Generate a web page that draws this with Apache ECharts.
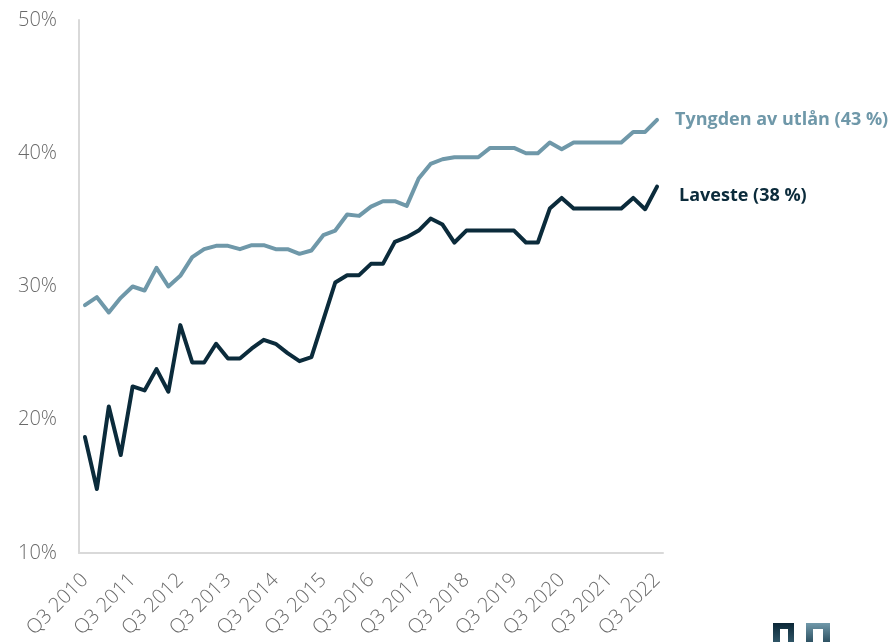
<!DOCTYPE html>
<html>
<head>
<meta charset="utf-8">
<script src="https://cdn.jsdelivr.net/npm/echarts@6/dist/echarts.min.js"></script>
<style>
  html, body { margin: 0; padding: 0; background: #fff; }
  #chart { width: 891px; height: 642px; }
</style>
</head>
<body>
<div id="chart"></div>
<script>
// Quarterly observations, Q3 2010 – Q3 2022 (percent)
const firstYear = 2010;
const quarters = [];
for (let i = 0; i < 49; i++) {
  const q = ((2 + i) % 4) + 1;
  const y = firstYear + Math.floor((2 + i) / 4);
  quarters.push('Q' + q + ' ' + y);
}

const seriesNames = ['Tyngden av utlån', 'Laveste'];

const tyngden = [
  28.6, 29.2, 28.05, 29.15, 30.0, 29.7, 31.4, 30.0, 30.8, 32.2,
  32.8, 33.05, 33.05, 32.8, 33.1, 33.1, 32.8, 32.8, 32.45, 32.7,
  33.85, 34.2, 35.4, 35.3, 36.0, 36.4, 36.4, 36.05, 38.1, 39.2,
  39.55, 39.7, 39.7, 39.7, 40.4, 40.4, 40.4, 40.0, 40.0, 40.8,
  40.3, 40.8, 40.8, 40.8, 40.8, 40.8, 41.6, 41.6, 42.5
];

const laveste = [
  18.7, 14.8, 21.0, 17.35, 22.5, 22.2, 23.8, 22.1, 27.1, 24.3,
  24.3, 25.7, 24.6, 24.6, 25.35, 26.0, 25.7, 25.0, 24.4, 24.7,
  27.5, 30.3, 30.85, 30.85, 31.7, 31.7, 33.35, 33.7, 34.2, 35.1,
  34.65, 33.3, 34.2, 34.2, 34.2, 34.2, 34.2, 33.3, 33.3, 35.85,
  36.65, 35.85, 35.85, 35.85, 35.85, 35.85, 36.65, 35.8, 37.5
];

const yTicks = [10, 20, 30, 40, 50];

const lightColor = '#6f98a9';
const darkColor = '#0b2b3b';

const chart = echarts.init(document.getElementById('chart'), null, { renderer: 'canvas' });

// Series name plus rounded latest value, placed after the line end
function endLabel(color, dist, off) {
  return {
    show: true,
    distance: dist,
    offset: off,
    color: color,
    fontFamily: 'Open Sans',
    fontWeight: 'bold',
    fontSize: 18,
    formatter: p => p.seriesName + ' (' + Math.round(p.value) + ' %)'
  };
}

chart.setOption({
  animation: false,
  backgroundColor: '#ffffff',
  grid: { left: 79, right: 228, top: 20, bottom: 89, containLabel: false },
  xAxis: {
    type: 'category',
    data: quarters,
    boundaryGap: true,
    axisLine: { show: true, lineStyle: { color: '#d9d9d9', width: 2 } },
    axisTick: { show: false },
    axisLabel: {
      interval: 3,
      rotate: 45,
      margin: 24,
      color: '#6a6a6a',
      fontFamily: 'Open Sans',
      fontWeight: 300,
      fontSize: 20
    },
    splitLine: { show: false }
  },
  yAxis: {
    type: 'value',
    min: yTicks[0],
    max: yTicks[yTicks.length - 1],
    interval: 10,
    axisLine: { show: true, lineStyle: { color: '#d9d9d9', width: 2 } },
    axisTick: { show: false },
    splitLine: { show: false },
    axisLabel: {
      margin: 22,
      color: '#6a6a6a',
      fontFamily: 'Open Sans',
      fontWeight: 300,
      fontSize: 20,
      formatter: '{value}%'
    }
  },
  series: [
    {
      name: seriesNames[0],
      type: 'line',
      data: tyngden,
      symbol: 'none',
      lineStyle: { color: lightColor, width: 4, cap: 'round', join: 'round' },
      itemStyle: { color: lightColor },
      endLabel: endLabel(lightColor, 18, [0, 0])
    },
    {
      name: seriesNames[1],
      type: 'line',
      data: laveste,
      symbol: 'none',
      lineStyle: { color: darkColor, width: 4, cap: 'round', join: 'round' },
      itemStyle: { color: darkColor },
      endLabel: endLabel(darkColor, 22, [0, 9])
    }
  ],
  graphic: [
    {
      type: 'polygon',
      shape: { points: [[773, 642], [773, 623], [794, 623], [794, 642], [788, 642], [788, 629], [780, 629], [780, 642]] },
      style: {
        fill: new echarts.graphic.LinearGradient(0, 0, 0, 1, [
          { offset: 0, color: '#0b2737' }, { offset: 1, color: '#2f5566' }
        ])
      }
    },
    {
      type: 'polygon',
      shape: { points: [[806, 642], [806, 623], [830, 623], [830, 642], [823, 642], [823, 629], [813, 629], [813, 642]] },
      style: {
        fill: new echarts.graphic.LinearGradient(0, 0, 0, 1, [
          { offset: 0, color: '#7199aa' }, { offset: 1, color: '#2e5263' }
        ])
      }
    }
  ]
});
</script>
</body>
</html>
